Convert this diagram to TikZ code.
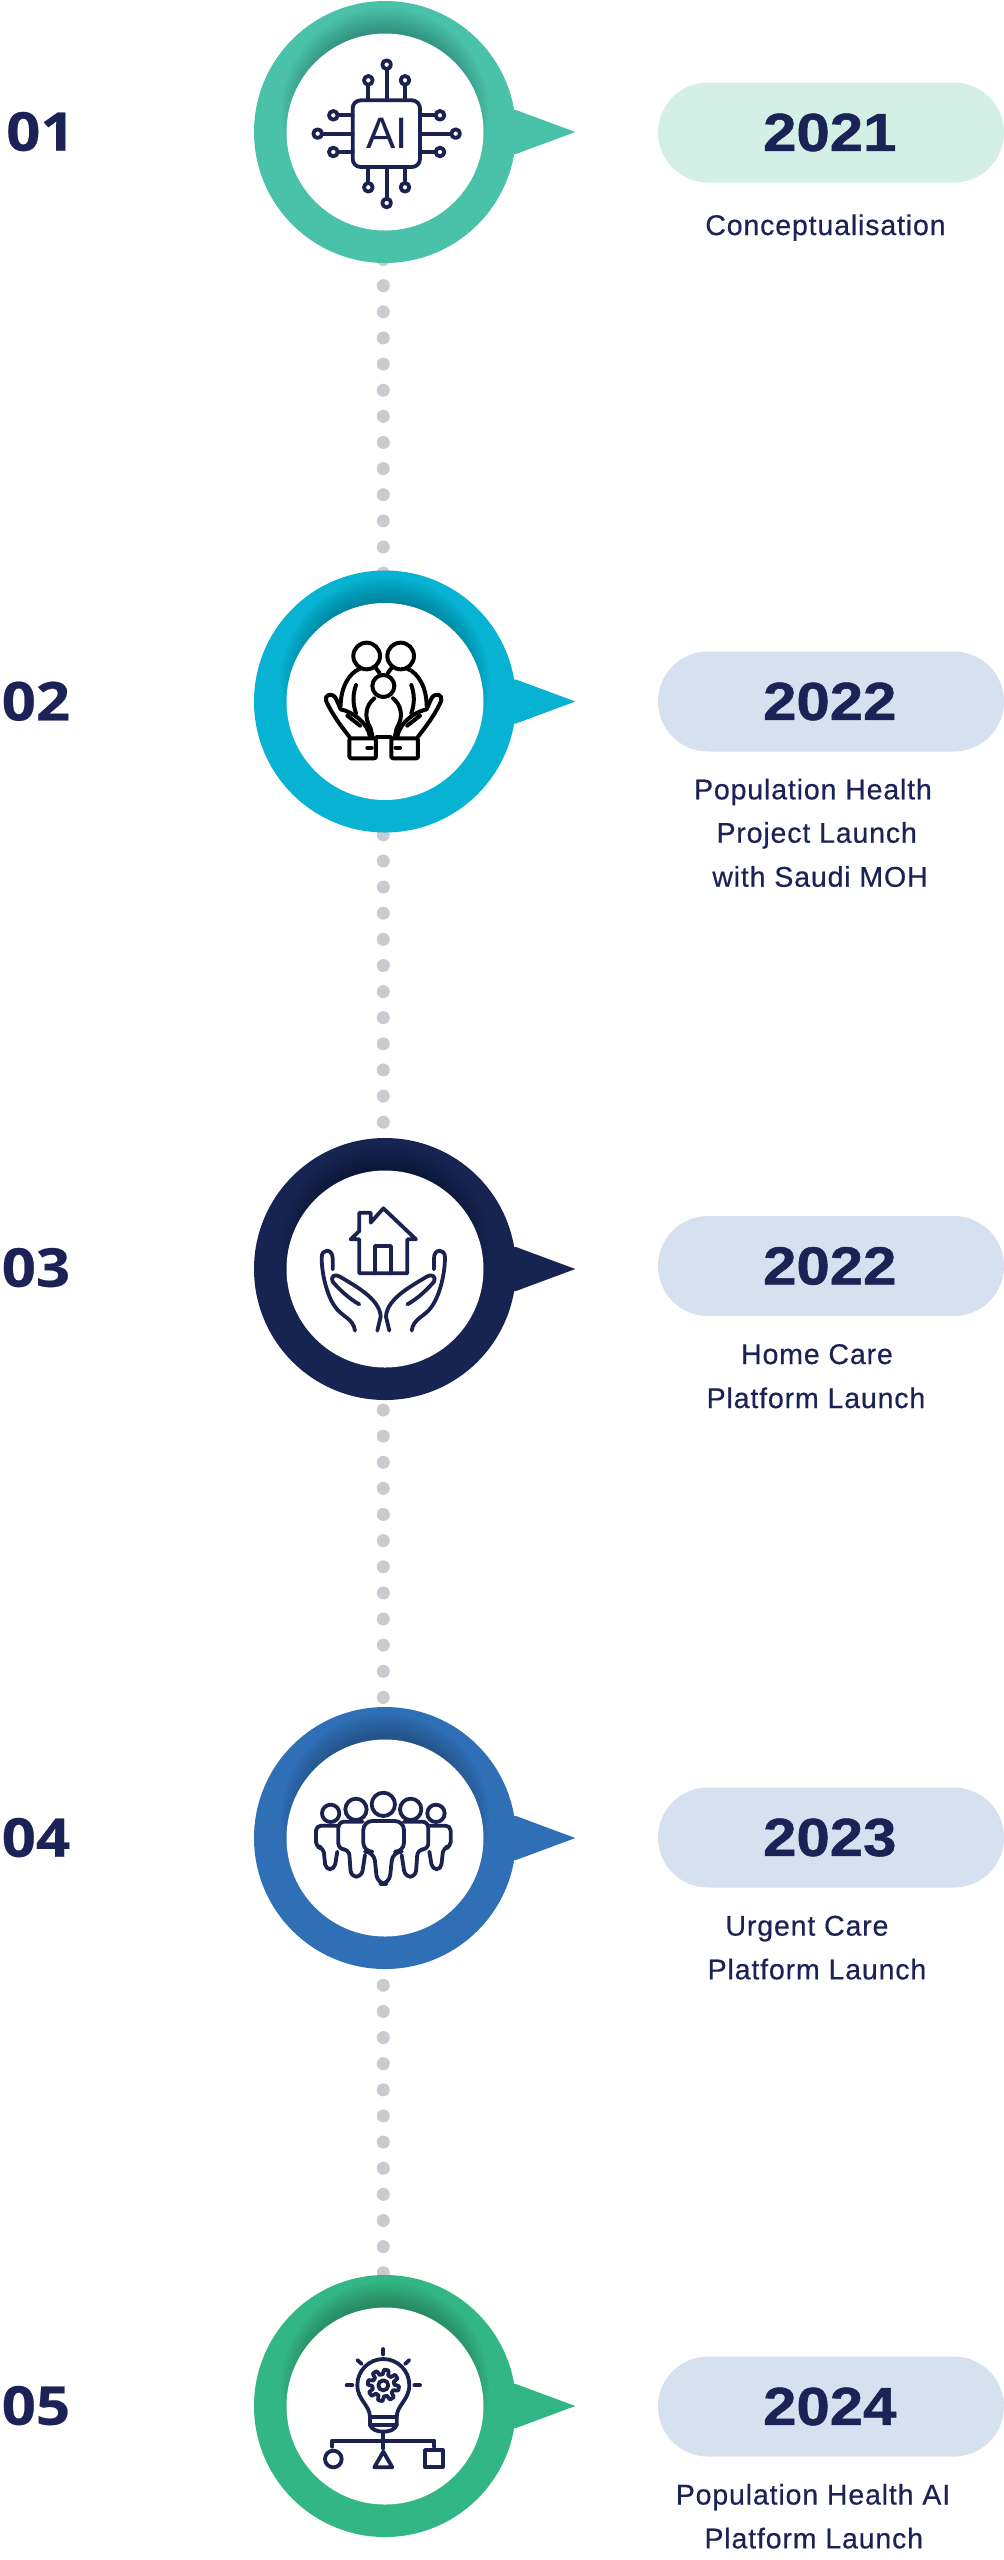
\documentclass[tikz,border=0pt]{standalone}
\usepackage{fontspec}
\usetikzlibrary{shapes.misc,backgrounds}
\setmainfont{Liberation Sans}
\newfontfamily\yearfont{Liberation Sans}[FakeStretch=1.12,BoldFeatures={FakeBold=1.0}]
\newfontfamily\subfont{Liberation Sans}[LetterSpace=3.0,FakeBold=0.45]
\newfontfamily\numfont{Open Sans}[FakeStretch=1.12,BoldFeatures={FakeBold=0.4}]
\definecolor{navy}{HTML}{1B2256}
\definecolor{iconnavy}{HTML}{1C2250}
\definecolor{ringa}{HTML}{4AC2A9}
\definecolor{ringb}{HTML}{07B2D2}
\definecolor{ringc}{HTML}{172350}
\definecolor{ringd}{HTML}{2F6FB6}
\definecolor{ringe}{HTML}{33B685}
\definecolor{dotgrey}{HTML}{C9CBD0}
\definecolor{pilla}{HTML}{D3EFE6}
\definecolor{pillb}{HTML}{D6E1EF}
\tikzset{
  ringdisk/.style={circle,minimum size=262pt,inner sep=0pt,outer sep=0pt},
  holedisk/.style={circle,fill=white,minimum size=197pt,inner sep=0pt,outer sep=0pt},
  pillbox/.style={rounded rectangle,minimum width=346pt,minimum height=100pt,inner sep=0pt,outer sep=0pt,text=navy},
  yearlabel/.style={inner sep=0pt,text=navy,font=\yearfont\bfseries\fontsize{53.5}{60}\selectfont},
  numlabel/.style={anchor=base west,inner sep=0pt,text=navy,font=\numfont\bfseries\fontsize{53.5}{60}\selectfont},
  sublabel/.style={anchor=base,inner sep=0pt,text=navy,font=\subfont\fontsize{28.5}{32}\selectfont},
  dotline/.style={draw=dotgrey,line width=13pt,line cap=round,dash pattern=on 0pt off 26.13pt},
  iconline/.style={line width=3.8pt,line cap=round,line join=round,draw=iconnavy},
  famline/.style={line width=4pt,line cap=round,line join=round,draw=black},
}
\newcommand{\famhand}{%
  \draw[famline] (208,410) .. controls (180,375) and (155,340) .. (138,302) .. controls (132,285) and (158,272) .. (170,300) -- (182,328) .. controls (215,335) and (262,365) .. (270,410);
  \draw[famline] (202,347) -- (240,377);
  \draw[famline,rounded corners=2pt] (208,415) rectangle (288,475);
  \draw[famline] (262,443) -- (275,443);
  \draw[famline] (182,318) .. controls (182,265) and (205,220) .. (240,206);
  \draw[famline] (228,255) .. controls (218,285) and (218,310) .. (228,340);
  \draw[famline] (283,295) .. controls (258,315) and (250,350) .. (272,385) -- (278,412);
}
\newcommand{\househand}{%
  \draw[iconline] (225,482) .. controls (220,445) and (185,440) .. (165,410) .. controls (140,375) and (125,310) .. (125,262) .. controls (125,235) and (158,235) .. (158,265) -- (158,298);
  \draw[iconline] (238,403) .. controls (205,385) and (175,355) .. (158,335) .. controls (150,320) and (165,310) .. (180,320) .. controls (220,345) and (300,385) .. (302,440) -- (292,482);
}
\newcommand{\crowdside}{%
  \draw[iconline,rounded corners=6pt] (248,245) -- (175,245) -- (175,328) -- (207,328) -- (213,410) -- (245,410) -- (255,345);
  \draw[iconline,rounded corners=5pt] (172,257) -- (108,257) -- (108,322) -- (130,322) -- (137,388) -- (163,388) -- (172,335);
  \draw[iconline] (228,208) circle[radius=32];
  \draw[iconline] (152,220) circle[radius=26];
}
\begin{document}
\begin{tikzpicture}[x=1pt,y=-1pt]
\useasboundingbox (0,0) rectangle (1004,2560);

\foreach \n/\cy/\py/\ny/\col/\pc/\yr/\nx/\nm in {1/132/132.5/150.7/ringa/pilla/2021/6/01,2/701.5/701.5/720.4/ringb/pillb/2022/1.5/02,3/1269/1266/1286.7/ringc/pillb/2022/1.5/03,4/1838/1837.5/1856.7/ringd/pillb/2023/1.5/04,5/2406/2406.5/2424.7/ringe/pillb/2024/1.5/05}{
  \node[ringdisk,fill=\col] (ring\n) at (385,\cy) {};
  \fill[\col] (575.3,\cy) -- ++(-59.3,-22) -- ++(-16,0) -- ++(0,44) -- ++(16,0) -- cycle;
  \begin{scope}
    \clip (385,\cy) circle[radius=131];
    \foreach \k in {1,...,14}{
      \fill[black,opacity=.02] (385,\cy) ++(0,-20) circle[radius=76+2*\k];
    }
  \end{scope}
  \node[holedisk] (hole\n) at (385,\cy) {};
  \node[pillbox,fill=\pc] (pill\n) at (831,\py) {};
  \node[yearlabel] (year\n) at (829.8,\py) {\yr};
  \node[numlabel] (num\n) at (\nx,\ny) {\nm};
}

\begin{scope}[on background layer]
  \fill[white] (0,0) rectangle (1004,2560);
  \foreach \a/\b/\p in {1/2/3.08,2/3/23.48,3/4/15.78,4/5/9.48}{
    \draw[dotline,dash phase=\p pt] ([xshift=-1.7pt]ring\a.center) -- ([xshift=-1.7pt]ring\b.center);
  }
\end{scope}

\foreach \id/\x/\y/\txt in {
  ta/825.5/235/Conceptualisation,
  tb/813/799.3/Population Health,
  tc/816.7/842.7/Project Launch,
  td/820/886.7/with Saudi MOH,
  te/817/1364/Home Care,
  tf/816/1408/Platform Launch,
  tg/807/1935.6/Urgent Care,
  th/817/1979.3/Platform Launch,
  ti/813/2504.5/Population Health AI,
  tj/813.8/2548.3/Platform Launch}{
  \node[sublabel] (\id) at (\x,\y) {\txt};
}

% AI chip icon
\begin{scope}[shift={(280,33)},x=.3333pt,y=-.3333pt]
  \draw[iconline,rounded corners=8pt] (218,202) rectangle (420,402);
  \foreach \cx/\cyy/\ex/\ey in {320/95/320/202,265/142/265/202,375/142/375/202,320/510/320/402,265/463/265/402,375/463/375/402,113/302/218/302,160/247/218/247,160/357/218/357,527/302/420/302,480/247/420/247,480/357/420/357}{
    \draw[iconline] (\cx,\cyy) -- (\ex,\ey);
    \draw[iconline,fill=white] (\cx,\cyy) circle[radius=13];
  }
  \node[inner sep=0pt,text=iconnavy,font=\fontsize{44}{48}\selectfont] (chiptext) at (322,302) {AI};
\end{scope}

% Family in hands icon
\begin{scope}[shift={(280,600)},x=.3333pt,y=-.3333pt]
  \draw[famline] (260,168) circle[radius=40];
  \draw[famline] (362,168) circle[radius=40];
  \draw[famline] (310,258) circle[radius=33];
  \famhand
  \begin{scope}[shift={(622,0)},xscale=-1]
    \famhand
  \end{scope}
  \draw[famline] (288,205) -- (298,218);
  \draw[famline] (334,205) -- (324,218);
  \draw[famline] (290,412) -- (332,412);
\end{scope}

% House in hands icon
\begin{scope}[shift={(280,1170)},x=.3333pt,y=-.3333pt]
  \draw[iconline] (212,208) -- (238,183) -- (238,128) -- (272,128) -- (272,158) -- (310,115) -- (408,208) -- (382,208) -- (382,310) -- (238,310) -- (238,208) -- cycle;
  \draw[iconline] (285,310) -- (285,228) -- (333,228) -- (333,310);
  \househand
  \begin{scope}[shift={(620,0)},xscale=-1]
    \househand
  \end{scope}
\end{scope}

% Crowd icon
\begin{scope}[shift={(280,1740)},x=.3333pt,y=-.3333pt]
  \draw[iconline] (310,193) circle[radius=35];
  \draw[iconline,rounded corners=9pt] (250,335) -- (250,243) -- (372,243) -- (372,335) -- (338,335) -- (328,432) -- (292,432) -- (282,335) -- cycle;
  \crowdside
  \begin{scope}[shift={(620,0)},xscale=-1]
    \crowdside
  \end{scope}
\end{scope}

% Bulb icon
\begin{scope}[shift={(280,2310)},x=.3333pt,y=-.3333pt]
  \draw[iconline] (310,117) -- (310,133);
  \draw[iconline] (232,150) -- (245,162);
  \draw[iconline] (388,150) -- (375,162);
  \draw[iconline] (200,226) -- (217,226);
  \draw[iconline] (403,226) -- (420,226);
  \draw[iconline] (270,322) .. controls (270,285) and (232,270) .. (232,225) .. controls (232,182) and (267,147) .. (310,147) .. controls (353,147) and (388,182) .. (388,225) .. controls (388,270) and (350,285) .. (350,322) -- (350,345) .. controls (345,358) and (330,365) .. (310,365) .. controls (290,365) and (275,358) .. (270,345) -- cycle;
  \draw[iconline] (270,322) -- (350,322);
  \draw[iconline] (270,345) -- (350,345);
  \draw[iconline] plot[domain=0:360,samples=161,variable=\t] ({310+(40+7*max(-1,min(1,2.5*sin(8*\t))))*cos(\t)},{226+(40+7*max(-1,min(1,2.5*sin(8*\t))))*sin(\t)}) -- cycle;
  \draw[iconline] (310,226) circle[radius=15];
  \draw[iconline] (310,365) -- (310,415);
  \draw[iconline] (157,410) -- (157,392) -- (463,392) -- (463,410);
  \draw[iconline] (160,447) circle[radius=25];
  \draw[iconline] (310,425) -- (337,472) -- (283,472) -- cycle;
  \draw[iconline] (435,420) rectangle (488,472);
\end{scope}
\end{tikzpicture}
\end{document}
